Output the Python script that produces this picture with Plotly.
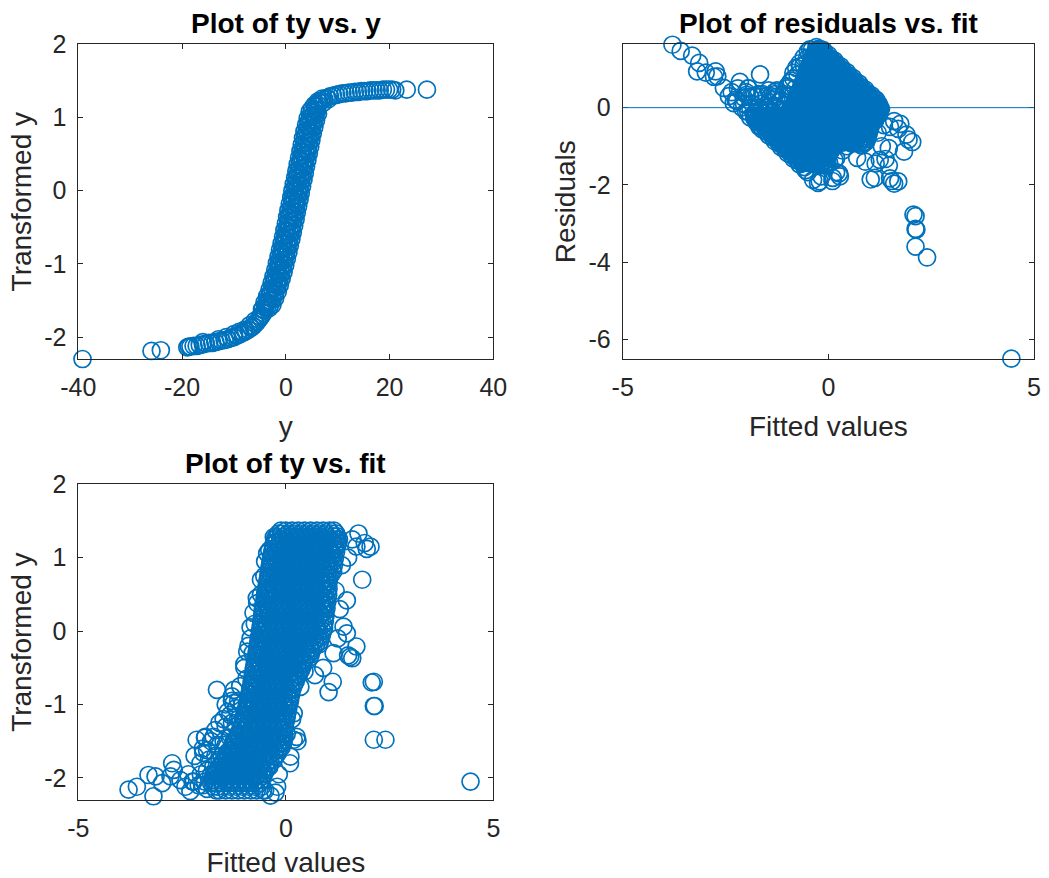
import plotly.graph_objects as go

# ---------------- Plot 1 data: (y, transformed y) read along the band ----------------
lower_tail_y = [-39.2, -25.9, -24.1, -19.0, -18.7, -18.4, -17.8, -17.2, -16.6, -16.0, -15.4, -14.8, -14.2,
                -13.6, -13.0, -12.4, -11.8, -11.2, -10.6, -10.0, -9.4, -8.8, -8.2, -7.7, -7.2, -6.7,
                -6.3, -5.9, -5.5, -5.2, -4.9, -4.6, -4.35, -4.1,
                -16.0, -13.0, -10.0, -8.0, -7.0, -6.0, -5.0, -4.5, -3.8, -9.0, -11.5]
lower_tail_ty = [-2.30, -2.19, -2.18, -2.14, -2.13, -2.13, -2.12, -2.12, -2.11, -2.10, -2.09, -2.08, -2.08,
                 -2.07, -2.06, -2.05, -2.04, -2.03, -2.01, -2.00, -1.98, -1.96, -1.94, -1.92, -1.90, -1.87,
                 -1.85, -1.82, -1.79, -1.76, -1.73, -1.70, -1.67, -1.64,
                 -2.07, -2.03, -1.96, -1.90, -1.84, -1.78, -1.72, -1.62, -1.55, -1.93, -2.00]

steep_y = [-4.6, -3.6, -2.58, -4.12, -3.1, -2.07, -3.59, -2.56, -1.56, -3.13, -2.14, -1.16, -2.74, -1.77,
           -0.8, -2.38, -1.41, -0.44, -2.03, -1.07, -0.12, -1.72, -0.76, 0.19, -1.4, -0.46, 0.48, -1.13,
           -0.18, 0.77, -0.82, 0.13, 1.07, -0.54, 0.4, 1.34, -0.27, 0.67, 1.61, 0.0, 0.94, 1.88, 0.25,
           1.18, 2.1, 0.49, 1.43, 2.37, 0.76, 1.7, 2.64, 1.03, 1.95, 2.88, 1.25, 2.19, 3.13, 1.52, 2.46,
           3.4, 1.79, 2.73, 3.65, 2.03, 2.95, 3.89, 2.28, 3.22, 4.16, 2.55, 3.49, 4.43, 2.82, 3.76, 4.7,
           3.07, 4.0, 4.92, 3.31, 4.25, 5.19, 3.58, 4.54, 5.49, 3.9, 4.85, 5.81, 4.21, 5.2, 6.2, 4.6, 5.65]
steep_ty = [-1.62, -1.59, -1.56, -1.53, -1.50, -1.47, -1.44, -1.41, -1.38, -1.35, -1.32, -1.29, -1.26,
            -1.23, -1.20, -1.17, -1.14, -1.11, -1.08, -1.05, -1.02, -0.99, -0.96, -0.93, -0.90, -0.87,
            -0.84, -0.81, -0.78, -0.75, -0.72, -0.69, -0.66, -0.63, -0.60, -0.57, -0.54, -0.51, -0.48,
            -0.45, -0.42, -0.39, -0.36, -0.33, -0.30, -0.27, -0.24, -0.21, -0.18, -0.15, -0.12, -0.09,
            -0.06, -0.03, 0.00, 0.03, 0.06, 0.09, 0.12, 0.15, 0.18, 0.21, 0.24, 0.27, 0.30, 0.33, 0.36,
            0.39, 0.42, 0.45, 0.48, 0.51, 0.54, 0.57, 0.60, 0.63, 0.66, 0.69, 0.72, 0.75, 0.78, 0.81,
            0.84, 0.87, 0.90, 0.93, 0.96, 0.99, 1.02, 1.05, 1.08, 1.11]

steep2_y = [-3.23, -3.97, -2.9, -3.64, -2.56, -3.28, -2.2, -2.94, -1.9, -2.66, -1.63, -2.4, -1.38, -2.16,
            -1.14, -1.92, -0.9, -1.69, -0.68, -1.47, -0.47, -1.27, -0.26, -1.06, -0.06, -0.87, 0.12,
            -0.68, 0.32, -0.48, 0.53, -0.27, 0.72, -0.09, 0.9, 0.09, 1.08, 0.27, 1.26, 0.45, 1.43, 0.62,
            1.59, 0.77, 1.75, 0.94, 1.93, 1.12, 2.11, 1.3, 2.29, 1.47, 2.44, 1.62, 2.6, 1.79, 2.78, 1.97,
            2.96, 2.15, 3.14, 2.32, 3.29, 2.47, 3.45, 2.64, 3.63, 2.82, 3.81, 3.0, 3.99, 3.18, 4.17, 3.36,
            4.34, 3.51, 4.49, 3.67, 4.66, 3.85, 4.84, 4.04, 5.04, 4.25, 5.25, 4.46, 5.46, 4.68, 5.73,
            4.95, 6.0]
steep2_ty = [-1.605, -1.575, -1.545, -1.515, -1.485, -1.455, -1.425, -1.395, -1.365, -1.335, -1.305,
             -1.275, -1.245, -1.215, -1.185, -1.155, -1.125, -1.095, -1.065, -1.035, -1.005, -0.975,
             -0.945, -0.915, -0.885, -0.855, -0.825, -0.795, -0.765, -0.735, -0.705, -0.675, -0.645,
             -0.615, -0.585, -0.555, -0.525, -0.495, -0.465, -0.435, -0.405, -0.375, -0.345, -0.315,
             -0.285, -0.255, -0.225, -0.195, -0.165, -0.135, -0.105, -0.075, -0.045, -0.015, 0.015,
             0.045, 0.075, 0.105, 0.135, 0.165, 0.195, 0.225, 0.255, 0.285, 0.315, 0.345, 0.375, 0.405,
             0.435, 0.465, 0.495, 0.525, 0.555, 0.585, 0.615, 0.645, 0.675, 0.705, 0.735, 0.765, 0.795,
             0.825, 0.855, 0.885, 0.915, 0.945, 0.975, 1.005, 1.035, 1.065, 1.095]

plateau_y = [5.8, 6.1, 6.5, 6.9, 7.4, 7.9, 8.5, 9.1, 9.7, 10.3, 10.9, 11.5, 12.1, 12.7, 13.3, 13.9,
             14.5, 15.1, 15.7, 16.3, 16.9, 17.5, 18.1, 18.7, 19.3, 19.9, 20.5, 21.1, 23.3, 27.2,
             5.0, 5.5, 6.2, 7.0, 6.0, 7.2, 8.2]
plateau_ty = [1.15, 1.18, 1.21, 1.23, 1.25, 1.27, 1.29, 1.30, 1.31, 1.32, 1.33, 1.33, 1.34, 1.34, 1.35,
              1.35, 1.36, 1.36, 1.36, 1.37, 1.37, 1.37, 1.37, 1.38, 1.38, 1.38, 1.38, 1.37, 1.38, 1.38,
              1.12, 1.17, 1.22, 1.26, 1.10, 1.20, 1.25]

# ---------------- Plots 2 & 3 data: fitted values and transformed y ----------------
blob_ty_levels = [1.37, 1.33, 1.29, 1.25, 1.21, 1.17, 1.12, 1.08, 1.03, 0.99, 0.94, 0.90, 0.85, 0.81,
                  0.76, 0.72, 0.67, 0.63, 0.58, 0.54, 0.49, 0.45, 0.40, 0.36, 0.31, 0.27, 0.22, 0.18,
                  0.13, 0.09, 0.04, 0.00, -0.05, -0.09, -0.14, -0.18, -0.23, -0.27, -0.32, -0.36,
                  -0.41, -0.45, -0.50, -0.54, -0.59, -0.63, -0.68, -0.72, -0.77, -0.81, -0.86, -0.90,
                  -0.95, -0.99, -1.04, -1.08, -1.13, -1.17, -1.22, -1.26, -1.31, -1.35, -1.40, -1.44,
                  -1.49, -1.53, -1.58, -1.62, -1.67, -1.71, -1.76, -1.80, -1.85, -1.89, -1.94, -1.98,
                  -2.03, -2.07, -2.12, -2.17]
blob_fit_rows = [
    [-0.12, 0.00, 0.15, 0.30, 0.45, 0.60, 0.75, 0.90, 1.05, 1.16],
    [-0.18, -0.10, 0.05, 0.20, 0.35, 0.50, 0.65, 0.80, 0.95, 1.10, 1.21],
    [-0.23, -0.05, 0.10, 0.25, 0.40, 0.55, 0.70, 0.85, 1.00, 1.15, 1.24],
    [-0.26, -0.13, 0.03, 0.18, 0.33, 0.48, 0.63, 0.78, 0.93, 1.08, 1.23, 1.28],
    [-0.28, -0.23, -0.08, 0.08, 0.23, 0.38, 0.53, 0.68, 0.83, 0.98, 1.13, 1.26],
    [-0.30, -0.18, -0.03, 0.13, 0.28, 0.43, 0.58, 0.73, 0.88, 1.03, 1.18, 1.24],
    [-0.31, -0.15, 0.00, 0.15, 0.30, 0.45, 0.60, 0.75, 0.90, 1.05, 1.19],
    [-0.33, -0.25, -0.10, 0.05, 0.20, 0.35, 0.50, 0.65, 0.80, 0.95, 1.10, 1.21],
    [-0.34, -0.20, -0.05, 0.10, 0.25, 0.40, 0.55, 0.70, 0.85, 1.00, 1.16],
    [-0.36, -0.28, -0.13, 0.03, 0.18, 0.33, 0.48, 0.63, 0.78, 0.93, 1.08, 1.18],
    [-0.37, -0.23, -0.08, 0.08, 0.23, 0.38, 0.53, 0.68, 0.83, 0.98, 1.14],
    [-0.38, -0.33, -0.18, -0.03, 0.13, 0.28, 0.43, 0.58, 0.73, 0.88, 1.03, 1.16],
    [-0.40, -0.30, -0.15, 0.00, 0.15, 0.30, 0.45, 0.60, 0.75, 0.90, 1.05, 1.12],
    [-0.41, -0.25, -0.10, 0.05, 0.20, 0.35, 0.50, 0.65, 0.80, 0.95, 1.14],
    [-0.42, -0.35, -0.20, -0.05, 0.10, 0.25, 0.40, 0.55, 0.70, 0.85, 1.00, 1.08],
    [-0.43, -0.28, -0.13, 0.03, 0.18, 0.33, 0.48, 0.63, 0.78, 0.93, 1.04],
    [-0.45, -0.38, -0.23, -0.08, 0.08, 0.23, 0.38, 0.53, 0.68, 0.83, 0.98, 1.03],
    [-0.46, -0.33, -0.18, -0.03, 0.13, 0.28, 0.43, 0.58, 0.73, 0.88, 1.01],
    [-0.47, -0.30, -0.15, 0.00, 0.15, 0.30, 0.45, 0.60, 0.75, 0.90, 1.03],
    [-0.49, -0.40, -0.25, -0.10, 0.05, 0.20, 0.35, 0.50, 0.65, 0.80, 0.95, 1.00],
    [-0.50, -0.35, -0.20, -0.05, 0.10, 0.25, 0.40, 0.55, 0.70, 0.85, 1.02],
    [-0.51, -0.43, -0.28, -0.13, 0.03, 0.18, 0.33, 0.48, 0.63, 0.78, 0.93, 0.98],
    [-0.52, -0.38, -0.23, -0.08, 0.08, 0.23, 0.38, 0.53, 0.68, 0.83, 1.00],
    [-0.54, -0.48, -0.33, -0.18, -0.03, 0.13, 0.28, 0.43, 0.58, 0.73, 0.88, 0.96],
    [-0.55, -0.45, -0.30, -0.15, 0.00, 0.15, 0.30, 0.45, 0.60, 0.75, 0.90, 0.98],
    [-0.56, -0.40, -0.25, -0.10, 0.05, 0.20, 0.35, 0.50, 0.65, 0.80, 0.94],
    [-0.57, -0.50, -0.35, -0.20, -0.05, 0.10, 0.25, 0.40, 0.55, 0.70, 0.85, 0.96],
    [-0.58, -0.43, -0.28, -0.13, 0.03, 0.18, 0.33, 0.48, 0.63, 0.78, 0.93],
    [-0.59, -0.53, -0.38, -0.23, -0.08, 0.08, 0.23, 0.38, 0.53, 0.68, 0.83, 0.94],
    [-0.60, -0.48, -0.33, -0.18, -0.03, 0.13, 0.28, 0.43, 0.58, 0.73, 0.91],
    [-0.61, -0.45, -0.30, -0.15, 0.00, 0.15, 0.30, 0.45, 0.60, 0.75, 0.92],
    [-0.62, -0.55, -0.40, -0.25, -0.10, 0.05, 0.20, 0.35, 0.50, 0.65, 0.80, 0.89],
    [-0.63, -0.50, -0.35, -0.20, -0.05, 0.10, 0.25, 0.40, 0.55, 0.70, 0.87],
    [-0.65, -0.58, -0.43, -0.28, -0.13, 0.03, 0.18, 0.33, 0.48, 0.63, 0.78, 0.84],
    [-0.66, -0.53, -0.38, -0.23, -0.08, 0.08, 0.23, 0.38, 0.53, 0.68, 0.82],
    [-0.67, -0.62, -0.48, -0.33, -0.18, -0.03, 0.13, 0.28, 0.43, 0.58, 0.73, 0.80],
    [-0.68, -0.60, -0.45, -0.30, -0.15, 0.00, 0.15, 0.30, 0.45, 0.60, 0.66],
    [-0.70, -0.55, -0.40, -0.25, -0.10, 0.05, 0.20, 0.35, 0.50, 0.62],
    [-0.71, -0.65, -0.50, -0.35, -0.20, -0.05, 0.10, 0.25, 0.40, 0.55, 0.60],
    [-0.72, -0.58, -0.43, -0.28, -0.13, 0.03, 0.18, 0.33, 0.48, 0.57],
    [-0.74, -0.68, -0.53, -0.38, -0.23, -0.08, 0.08, 0.23, 0.38, 0.44],
    [-0.75, -0.63, -0.48, -0.33, -0.18, -0.03, 0.13, 0.28, 0.41],
    [-0.77, -0.60, -0.45, -0.30, -0.15, 0.00, 0.15, 0.30, 0.39],
    [-0.78, -0.70, -0.55, -0.40, -0.25, -0.10, 0.05, 0.20, 0.36],
    [-0.79, -0.65, -0.50, -0.35, -0.20, -0.05, 0.10, 0.25, 0.31],
    [-0.80, -0.73, -0.58, -0.43, -0.28, -0.13, 0.03, 0.18, 0.26],
    [-0.82, -0.68, -0.53, -0.38, -0.23, -0.08, 0.08, 0.24],
    [-0.83, -0.78, -0.63, -0.48, -0.33, -0.18, -0.03, 0.13, 0.20],
    [-0.84, -0.75, -0.60, -0.45, -0.30, -0.15, 0.00, 0.17],
    [-0.86, -0.70, -0.55, -0.40, -0.25, -0.10, 0.05, 0.14],
    [-0.88, -0.80, -0.65, -0.50, -0.35, -0.20, -0.05, 0.13],
    [-0.90, -0.73, -0.58, -0.43, -0.28, -0.13, 0.03, 0.11],
    [-0.91, -0.83, -0.68, -0.53, -0.38, -0.23, -0.08, 0.10],
    [-0.93, -0.78, -0.63, -0.48, -0.33, -0.18, -0.03, 0.08],
    [-0.95, -0.90, -0.75, -0.60, -0.45, -0.30, -0.15, 0.00, 0.06],
    [-0.97, -0.85, -0.70, -0.55, -0.40, -0.25, -0.10, 0.05],
    [-0.98, -0.80, -0.65, -0.50, -0.35, -0.20, -0.05, 0.03],
    [-1.00, -0.88, -0.73, -0.58, -0.43, -0.28, -0.13, 0.02],
    [-1.02, -0.98, -0.83, -0.68, -0.53, -0.38, -0.23, -0.08, 0.00],
    [-1.05, -0.93, -0.78, -0.63, -0.48, -0.33, -0.18, -0.02],
    [-1.07, -0.90, -0.75, -0.60, -0.45, -0.30, -0.15, -0.03],
    [-1.10, -1.00, -0.85, -0.70, -0.55, -0.40, -0.25, -0.10, -0.05],
    [-1.14, -0.95, -0.80, -0.65, -0.50, -0.35, -0.20, -0.05, 0.02],
    [-1.18, -1.03, -0.88, -0.73, -0.58, -0.43, -0.28, -0.13, -0.03],
    [-1.21, -1.13, -0.98, -0.83, -0.68, -0.53, -0.38, -0.23, -0.05],
    [-1.25, -1.08, -0.93, -0.78, -0.63, -0.48, -0.33, -0.18, -0.07],
    [-1.30, -1.20, -1.05, -0.90, -0.75, -0.60, -0.45, -0.30, -0.15, -0.10],
    [-1.35, -1.30, -1.15, -1.00, -0.85, -0.70, -0.55, -0.40, -0.25, -0.17],
    [-1.40, -1.25, -1.10, -0.95, -0.80, -0.65, -0.50, -0.35, -0.20],
    [-1.45, -1.33, -1.18, -1.03, -0.88, -0.73, -0.58, -0.43, -0.27],
    [-1.50, -1.43, -1.28, -1.13, -0.98, -0.83, -0.68, -0.53, -0.38, -0.30],
    [-1.55, -1.38, -1.23, -1.08, -0.93, -0.78, -0.63, -0.48, -0.37],
    [-1.60, -1.50, -1.35, -1.20, -1.05, -0.90, -0.75, -0.60, -0.45, -0.40],
    [-1.65, -1.60, -1.45, -1.30, -1.15, -1.00, -0.85, -0.70, -0.55, -0.47],
    [-1.70, -1.55, -1.40, -1.25, -1.10, -0.95, -0.80, -0.65, -0.52],
    [-1.75, -1.63, -1.48, -1.33, -1.18, -1.03, -0.88, -0.73, -0.57],
    [-1.78, -1.73, -1.58, -1.43, -1.28, -1.13, -0.98, -0.83, -0.68, -0.60],
    [-1.80, -1.68, -1.53, -1.38, -1.23, -1.08, -0.93, -0.78, -0.63],
    [-1.75, -1.65, -1.50, -1.35, -1.20, -1.05, -0.90, -0.75, -0.58],
    [-1.68, -1.60, -1.45, -1.30, -1.15, -1.00, -0.85, -0.70, -0.55, -0.50],
]

left_cloud_fit = [-1.05, -1.20, -1.10, -1.25, -1.00, -0.90, -1.15, -1.30, -1.45, -1.35, -1.50, -1.65,
                  -1.55, -1.70, -1.85, -1.75, -1.90, -2.05, -1.95, -2.10, -2.25, -1.60, -1.40, -1.80,
                  -2.00, -1.55, -1.30, -1.45, -1.25, -1.40, -1.95, -2.20, -2.35, -0.95, -0.85, -0.78,
                  -0.70, -0.60, -0.50, -0.40]
left_cloud_ty = [-1.00, -1.05, -0.75, -0.80, -0.45, -0.20, -1.20, -1.25, -1.30, -1.45, -1.50, -1.55,
                 -1.70, -1.70, -1.75, -1.85, -1.90, -1.95, -2.05, -2.10, -2.05, -1.25, -1.10, -1.50,
                 -1.60, -1.95, -0.95, -1.00, -1.50, -1.65, -1.45, -1.70, -1.95, -0.65, 0.05, 0.25,
                 0.45, 0.70, 0.95, 1.10]

sparse_fit = [-3.79, -3.59, -3.19, -3.31, -3.14, -2.98, -2.74, -2.70, -2.78, -2.54, -2.42, -2.22, -2.06,
              -2.15, -1.99, -1.94, -1.74, -1.70, -1.66, -1.90, -1.30, -1.26, -1.34, -1.50, -1.45, -1.60,
              -1.80, -2.00, -1.90, -2.30, -1.20, -1.15, -1.00, -0.93, -0.85, -0.75, -0.69, -0.52, -0.45,
              -0.29, -0.60, -0.80, -1.10,
              1.84, 1.03, 1.55, 1.60, 1.50, 2.12, 2.07, 2.12, 2.14, 2.12, 2.40, 4.45, 2.04, 1.90, 1.75,
              1.70, 1.95, 1.47, 1.39, 1.47, 1.30, 1.25, 1.20, 1.35, 1.50, 1.60, 1.15, 0.90, 0.70, 0.45,
              0.35, 0.19, 0.26, 0.19, 0.11, -0.21, -0.37, -0.25, 0.15, 0.10, 0.28, -0.17, 1.13, 1.70]
sparse_ty = [-2.16, -2.12, -2.25, -1.96, -1.98, -2.07, -1.80, -1.89, -1.98, -2.03, -2.12, -2.05, -1.80,
             -1.48, -1.66, -1.44, -1.44, -1.35, -0.80, -1.62, -0.89, -0.98, -1.14, -1.20, -1.55, -1.75,
             -1.95, -2.10, -2.15, -2.18, -1.30, -0.95, -0.50, -0.28, -0.10, 0.10, 0.38, 0.75, 1.06,
             1.28, 0.50, -0.30, -1.50,
             0.70, -0.83, -0.35, -0.37, -0.33, -0.69, -0.70, -1.02, -1.02, -1.48, -1.48, -2.05, 1.15,
             1.20, 1.33, 1.15, 1.12, 0.42, 0.06, -0.03, 0.30, -0.10, 0.55, 0.90, 1.00, 1.25, -0.30,
             -0.50, -0.60, -0.55, -0.76, -1.12, -1.44, -1.48, -1.71, -2.12, -2.24, -2.20, -1.20, -1.80,
             -1.50, -1.95, -0.69, -0.21]

zero_level = 0

titles = ["Plot of ty vs. y", "Plot of residuals vs. fit", "Plot of ty vs. fit"]
y_ticks_1 = [-40, -20, 0, 20, 40]
ty_ticks = [-2, -1, 0, 1, 2]
fit_ticks = [-5, 0, 5]
resid_ticks = [-6, -4, -2, 0]

# ---------------- assemble ----------------
y_obs = lower_tail_y + steep_y + steep2_y + plateau_y
ty_obs = lower_tail_ty + steep_ty + steep2_ty + plateau_ty

fit_vals, ty_vals = [], []
for lvl, row in zip(blob_ty_levels, blob_fit_rows):
    for f in row:
        fit_vals.append(f)
        ty_vals.append(lvl)
fit_vals += left_cloud_fit + sparse_fit
ty_vals += left_cloud_ty + sparse_ty
resid_vals = [t - f for t, f in zip(ty_vals, fit_vals)]

BLUE = "#0072BD"
AX = "#262626"
FONT = "Liberation Sans, Arial, Helvetica, sans-serif"
marker = dict(symbol="circle-open", size=17, color=BLUE, line=dict(width=1.7, color=BLUE))

fig = go.Figure()
fig.add_trace(go.Scatter(x=y_obs, y=ty_obs, mode="markers", marker=marker,
                         xaxis="x", yaxis="y", cliponaxis=False, showlegend=False))
fig.add_trace(go.Scatter(x=fit_vals, y=resid_vals, mode="markers", marker=marker,
                         xaxis="x2", yaxis="y2", cliponaxis=False, showlegend=False))
fig.add_trace(go.Scatter(x=fit_vals, y=ty_vals, mode="markers", marker=marker,
                         xaxis="x3", yaxis="y3", cliponaxis=False, showlegend=False))

fig.add_shape(type="line", xref="x2 domain", yref="y2", x0=0, x1=1, y0=zero_level, y1=zero_level,
              line=dict(color=BLUE, width=1))


def lbl(vals):
    return [str(v) for v in vals]


def ax_style(**kw):
    d = dict(showline=True, linecolor=AX, linewidth=1, mirror="ticks", ticks="inside",
             ticklen=5, tickwidth=1, tickcolor=AX, showgrid=False, zeroline=False,
             automargin=False,
             tickfont=dict(family=FONT, size=25, color=AX),
             title_font=dict(family=FONT, size=28, color=AX))
    d.update(kw)
    return d


xl = [0.0747, 0.4703]
xr = [0.5936, 0.9857]
yt = [0.5911, 0.9495]
yb = [0.0889, 0.4484]

fig.update_layout(
    width=1049, height=878,
    margin=dict(l=0, r=0, t=0, b=0, autoexpand=False),
    paper_bgcolor="white", plot_bgcolor="white",
    font=dict(family=FONT, color=AX),
    showlegend=False,
    xaxis=ax_style(domain=xl, anchor="y", range=[-40, 40], tickvals=y_ticks_1, ticktext=lbl(y_ticks_1),
                   ticklabelstandoff=6, title=dict(text="y", standoff=16)),
    yaxis=ax_style(domain=yt, anchor="x", range=[-2.3, 2], tickvals=ty_ticks, ticktext=lbl(ty_ticks),
                   ticklabelstandoff=6, title=dict(text="Transformed y", standoff=4)),
    xaxis2=ax_style(domain=xr, anchor="y2", range=[-5, 5], tickvals=fit_ticks, ticktext=lbl(fit_ticks),
                    ticklabelstandoff=6, title=dict(text="Fitted values", standoff=16)),
    yaxis2=ax_style(domain=yt, anchor="x2", range=[-6.51, 1.64], tickvals=resid_ticks,
                    ticktext=lbl(resid_ticks), ticklabelstandoff=6,
                    title=dict(text="Residuals", standoff=4)),
    xaxis3=ax_style(domain=xl, anchor="y3", range=[-5, 5], tickvals=fit_ticks, ticktext=lbl(fit_ticks),
                    ticklabelstandoff=6, title=dict(text="Fitted values", standoff=16)),
    yaxis3=ax_style(domain=yb, anchor="x3", range=[-2.3, 2], tickvals=ty_ticks, ticktext=lbl(ty_ticks),
                    ticklabelstandoff=6, title=dict(text="Transformed y", standoff=4)),
)

title_pos = [((xl[0] + xl[1]) / 2, 1 - 23.5 / 878),
             ((xr[0] + xr[1]) / 2, 1 - 23.5 / 878),
             ((xl[0] + xl[1]) / 2, 1 - 463.5 / 878)]
for text, (tx, ty_) in zip(titles, title_pos):
    fig.add_annotation(text=text, x=tx, y=ty_, xref="paper", yref="paper", showarrow=False,
                       xanchor="center", yanchor="middle",
                       font=dict(family=FONT, size=28, color="black", weight="bold"))

fig.write_html("out.html", config={"displayModeBar": False},
               post_script="document.body.style.margin='0px';")
